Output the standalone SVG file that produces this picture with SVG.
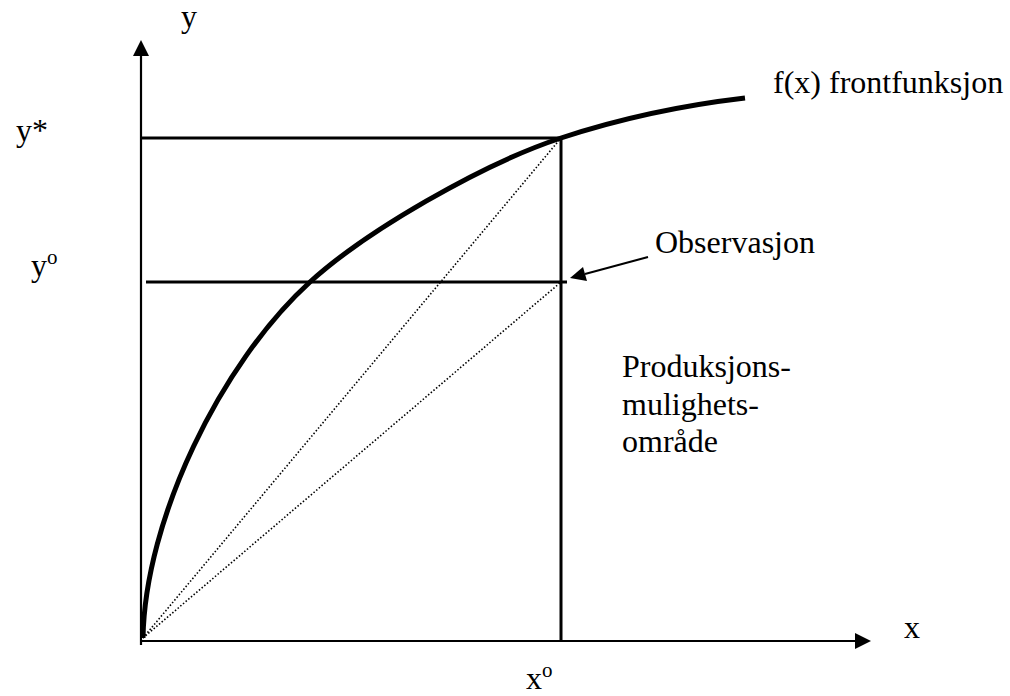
<svg xmlns="http://www.w3.org/2000/svg" width="1010" height="696" viewBox="0 0 1010 696">
<style>
.t{font-family:"Liberation Serif","Times New Roman",serif;font-size:32px;fill:#000}
.ln{stroke:#000;stroke-width:3;fill:none}
.ax{stroke:#000;stroke-width:2.2;fill:none}
.dot{stroke:#000;stroke-width:1.6;stroke-dasharray:1.5 2;fill:none}
</style>
<rect width="1010" height="696" fill="#fff"/>
<g id="connectors">
<line class="ax" x1="141" y1="645" x2="141" y2="54"/>
<polygon points="141,40 133,56 149,56" fill="#000"/>
<line class="ax" x1="141" y1="641" x2="856" y2="641"/>
<polygon points="871,641 855,633 855,649" fill="#000"/>
<line class="ln" x1="141" y1="138" x2="561" y2="138"/>
<line class="ln" x1="146" y1="282" x2="567" y2="282"/>
<line class="ln" x1="561" y1="138" x2="561" y2="641"/>
<line class="dot" x1="143" y1="638" x2="561" y2="138"/>
<line class="dot" x1="143" y1="638" x2="561" y2="282"/>
<path fill="none" stroke="#000" stroke-width="5" d="M143,638 C145,520 220,364 310,282 C365,232 481,164.4 561,138 C621,118.2 685,105 745,98"/>
<line x1="648" y1="257" x2="585" y2="274" stroke="#000" stroke-width="2"/>
<polygon points="570,278 583,267 587,281" fill="#000"/>
</g>
<g id="labels">
<text class="t" x="181" y="27">y</text>
<text class="t" x="904" y="638">x</text>
<text class="t" x="16" y="141">y*</text>
<text class="t" x="31" y="276">y<tspan font-size="21" dy="-12">o</tspan></text>
<text class="t" x="526" y="689">x<tspan font-size="21" dy="-12">o</tspan></text>
<text class="t" x="773" y="93">f(x) frontfunksjon</text>
<text class="t" x="655" y="253">Observasjon</text>
<text class="t" x="622" y="377">Produksjons-</text>
<text class="t" x="622" y="415">mulighets-</text>
<text class="t" x="622" y="452">område</text>
</g>
</svg>
